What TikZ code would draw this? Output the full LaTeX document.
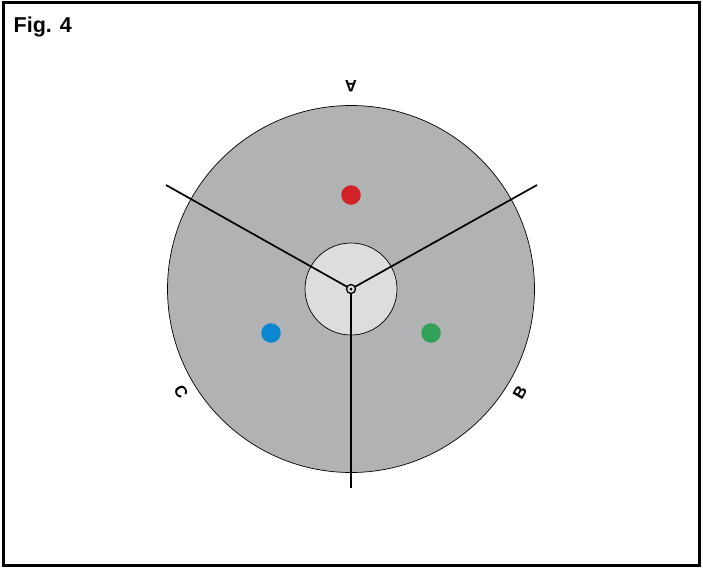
\documentclass[tikz,border=0pt]{standalone}
\usepackage{fontspec}
\setmainfont{Liberation Sans}
\definecolor{outergray}{HTML}{B1B2B4}
\definecolor{innergray}{HTML}{DCDDDE}
\definecolor{dotred}{HTML}{D12228}
\definecolor{dotblue}{HTML}{0B87CF}
\definecolor{dotgreen}{HTML}{30A157}
\begin{document}
\begin{tikzpicture}[x=1pt,y=-1pt,
  lab/.style={font=\bfseries\fontsize{16.5}{16.5}\selectfont, inner sep=0pt},
  dot/.style={circle, inner sep=0pt, minimum size=19.5pt},
  spoke/.style={line width=1.7pt}]
\useasboundingbox (0,0) rectangle (703,568);
\draw[line width=3pt] (3.5,2.5) rectangle (699.5,565.5);
\node[anchor=base west, font=\bfseries\fontsize{21.5}{21.5}\selectfont, inner sep=0pt] (fig) at (13.5,32) {Fig. 4};
\coordinate (c) at (351,289);
\node[circle, draw, line width=0.7pt, fill=outergray, minimum size=367pt, inner sep=0pt] (outer) at (c) {};
\node[circle, draw, line width=0.7pt, fill=innergray, minimum size=92pt, inner sep=0pt] (inner) at (c) {};
\coordinate (ea) at (166,185);
\coordinate (eb) at (537,185);
\coordinate (ec) at (351,488);
\draw[spoke] (c) -- (ea);
\draw[spoke] (c) -- (eb);
\draw[spoke] (c) -- (ec);
\node[circle, draw, line width=1.3pt, fill=innergray, minimum size=9pt, inner sep=0pt] (hub) at (c) {};
\fill (c) circle (1.5pt);
\node[dot, fill=dotred] (r) at (351,195) {};
\node[dot, fill=dotblue] (bl) at (271,333) {};
\node[dot, fill=dotgreen] (g) at (431,333) {};
\node[lab, rotate=180] (A) at (351,86) {A};
\node[lab, rotate=60] (B) at (520,392) {B};
\node[lab, rotate=-60] (C) at (181,392) {C};
\end{tikzpicture}
\end{document}
